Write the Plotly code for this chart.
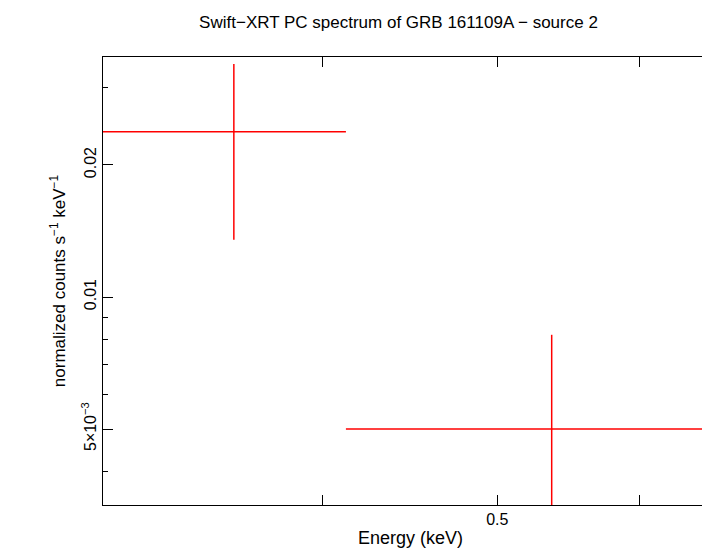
import numpy as np
import plotly.graph_objects as go

# spectrum bins (keV) and normalized counts
energy = [0.357, 0.536]
e_lo = [0.298, 0.412]
e_hi = [0.412, 0.70]
counts = [0.0238, 0.0050]
c_lo = [0.0135, 0.0030]
c_hi = [0.0340, 0.0082]

y_major = [0.005, 0.01, 0.02]
y_labels = ["5×10<sup>−3</sup>", "0.01", "0.02"]
y_minor = [0.004, 0.006, 0.007, 0.008, 0.009, 0.03]
x_major = [0.4, 0.5, 0.6]
x_labels = ["", "0.5", ""]

ex_minus = [e - l for e, l in zip(energy, e_lo)]
ex_plus = [h - e for e, h in zip(energy, e_hi)]
ey_minus = [c - l for c, l in zip(counts, c_lo)]
ey_plus = [h - c for c, h in zip(counts, c_hi)]

fig = go.Figure()
fig.add_trace(go.Scatter(
    x=energy, y=counts, mode="markers",
    marker=dict(size=1, color="red"),
    error_x=dict(type="data", symmetric=False, array=ex_plus, arrayminus=ex_minus,
                 color="red", thickness=1.5, width=0),
    error_y=dict(type="data", symmetric=False, array=ey_plus, arrayminus=ey_minus,
                 color="red", thickness=1.5, width=0),
    showlegend=False,
))

axis_common = dict(type="log", showgrid=False, zeroline=False, showline=True,
                   linecolor="black", linewidth=1, mirror="ticks", ticks="inside",
                   ticklen=10, tickcolor="black",
                   tickfont=dict(family="Liberation Sans", size=16, color="black"))

fig.update_xaxes(**axis_common, range=[np.log10(0.302), np.log10(0.663)],
                 tickmode="array", tickvals=x_major, ticktext=x_labels,
                 title=dict(text="Energy (keV)", standoff=4,
                            font=dict(family="Liberation Sans", size=18, color="black")))
fig.update_yaxes(**axis_common, range=[np.log10(0.003355), np.log10(0.03526)],
                 tickmode="array", tickvals=y_major, ticktext=y_labels, tickangle=-90,
                 minor=dict(tickmode="array", tickvals=y_minor, ticks="inside",
                            ticklen=5, tickcolor="black"),
                 title=dict(text="normalized counts s<sup>−1</sup> keV<sup>−1</sup>", standoff=8,
                            font=dict(family="Liberation Sans", size=17, color="black")))

fig.update_layout(
    width=710, height=556,
    margin=dict(l=95, r=0, t=49, b=59),
    plot_bgcolor="white", paper_bgcolor="white",
    title=dict(text="Swift−XRT PC spectrum of GRB 161109A − source 2",
               x=0.55, xanchor="center", y=0.985,
               font=dict(family="Liberation Sans", size=17, color="black")),
)

fig.write_html("out.html")
